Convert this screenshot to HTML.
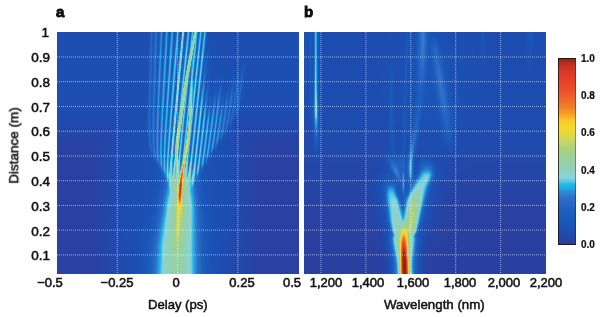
<!DOCTYPE html>
<html><head><meta charset="utf-8">
<style>
html,body{margin:0;padding:0;background:#fff;}
body{-webkit-font-smoothing:antialiased;width:600px;height:317px;position:relative;overflow:hidden;font-family:"Liberation Sans",sans-serif;color:#111;}
.t{position:absolute;white-space:nowrap;line-height:1;will-change:transform;}
.yt{font-size:13.5px;-webkit-text-stroke:0.55px #111;text-align:right;width:30px;}
.xt{font-size:13px;-webkit-text-stroke:0.55px #111;text-align:center;width:40px;}
.ct{font-size:10px;font-weight:bold;-webkit-text-stroke:0.2px #111;}
.plot{position:absolute;top:32px;height:241.5px;background:#2250a8;overflow:hidden;}
#pa{left:57px;width:241.5px;}
#pb{left:304px;width:242px;}
canvas{position:absolute;left:0;top:0;filter:blur(0.45px);}
svg.grid{position:absolute;left:0;top:0;}
#cb{position:absolute;left:558px;top:58px;width:16px;height:185px;border:1px solid rgba(20,10,10,0.75);border-right-color:rgba(20,10,10,0.35);
background:linear-gradient(to top,#2c3c98 0.0%,#2a40a0 1.6%,#1e4cb0 6.0%,#1858b8 12.0%,#2060c0 19.0%,#3070c8 25.0%,#3080d0 27.0%,#2890d8 28.5%,#20a8e0 30.0%,#20b8e8 32.0%,#60c8e0 34.0%,#88d4d8 36.0%,#90d0c0 40.0%,#98d0a0 45.5%,#a8d080 51.0%,#c8d860 56.0%,#e0d840 59.0%,#f8d828 63.0%,#f8c828 67.0%,#f8a028 70.0%,#f08028 74.0%,#f06828 78.0%,#ec5028 83.0%,#e84028 88.0%,#d83828 93.5%,#b03020 98.0%,#8a2818 100.0%);}
</style></head><body>
<div class="t" style="left:56px;top:4.2px;font-size:15px;font-weight:bold;-webkit-text-stroke:0.8px #000;">a</div>
<div class="t" style="left:303.5px;top:4px;font-size:15px;font-weight:bold;-webkit-text-stroke:0.8px #000;">b</div>

<div class="plot" id="pa"><canvas id="ca" width="242" height="242"></canvas><svg class="grid" width="241" height="242" viewBox="0 0 241 242"><g stroke="#fff" stroke-width="1" stroke-dasharray="1 1" stroke-opacity="0.55" fill="none"><path d="M0 25.0H241M0 49.7H241M0 74.5H241M0 99.2H241M0 124.0H241M0 148.7H241M0 173.4H241M0 198.1H241M0 222.9H241M60.3 0V242M120.7 0V242M180.8 0V242"/></g></svg></div>
<div class="plot" id="pb"><canvas id="cbv" width="242" height="242"></canvas><svg class="grid" width="242" height="242" viewBox="0 0 242 242"><g stroke="#fff" stroke-width="1" stroke-dasharray="1 1" stroke-opacity="0.55" fill="none"><path d="M0 25.0H242M0 49.7H242M0 74.5H242M0 99.2H242M0 124.0H242M0 148.7H242M0 173.4H242M0 198.1H242M0 222.9H242M17.0 0V242M61.9 0V242M106.8 0V242M151.7 0V242M196.6 0V242"/></g></svg></div>

<!-- y ticks -->
<div class="t yt" style="left:18.8px;top:25.5px;">1</div>
<div class="t yt" style="left:20px;top:50.5px;">0.9</div>
<div class="t yt" style="left:20px;top:75.5px;">0.8</div>
<div class="t yt" style="left:20px;top:100.5px;">0.7</div>
<div class="t yt" style="left:20px;top:124.5px;">0.6</div>
<div class="t yt" style="left:20px;top:149.5px;">0.5</div>
<div class="t yt" style="left:20px;top:174.5px;">0.4</div>
<div class="t yt" style="left:20px;top:199.5px;">0.3</div>
<div class="t yt" style="left:20px;top:224.5px;">0.2</div>
<div class="t yt" style="left:20px;top:248.5px;">0.1</div>

<!-- x ticks a -->
<div class="t xt" style="left:30px;top:276.3px;">&minus;0.5</div>
<div class="t xt" style="left:97px;top:276.3px;">&minus;0.25</div>
<div class="t xt" style="left:156px;top:276.3px;">0</div>
<div class="t xt" style="left:222px;top:276.3px;">0.25</div>
<div class="t xt" style="left:272px;top:276.3px;">0.5</div>
<!-- x ticks b -->
<div class="t xt" style="left:306px;top:276.3px;">1,200</div>
<div class="t xt" style="left:348px;top:276.3px;">1,400</div>
<div class="t xt" style="left:393px;top:276.3px;">1,600</div>
<div class="t xt" style="left:440px;top:276.3px;">1,800</div>
<div class="t xt" style="left:484px;top:276.3px;">2,000</div>
<div class="t xt" style="left:526px;top:276.3px;">2,200</div>

<div class="t" style="left:147.5px;top:297.5px;font-size:13.1px;-webkit-text-stroke:0.5px #111;">Delay (ps)</div>
<div class="t" style="left:383.5px;top:297.5px;font-size:13.3px;-webkit-text-stroke:0.5px #111;">Wavelength (nm)</div>
<div class="t" style="left:-23px;top:140px;font-size:13.5px;-webkit-text-stroke:0.5px #111;transform:rotate(-90deg);width:74px;text-align:center;">Distance (m)</div>

<div id="cb"></div>
<div class="t ct" style="left:581px;top:54px;">1.0</div>
<div class="t ct" style="left:581px;top:91px;">0.8</div>
<div class="t ct" style="left:581px;top:128px;">0.6</div>
<div class="t ct" style="left:581px;top:166px;">0.4</div>
<div class="t ct" style="left:581px;top:203px;">0.2</div>
<div class="t ct" style="left:581px;top:240px;">0.0</div>
<script>(function(){
var CM=[[0,0x2c,0x3c,0x98],[0.016,0x2a,0x40,0xa0],[0.06,0x1e,0x4c,0xb0],[0.12,0x18,0x58,0xb8],[0.19,0x20,0x60,0xc0],[0.25,0x30,0x70,0xc8],[0.27,0x30,0x80,0xd0],[0.285,0x28,0x90,0xd8],[0.3,0x20,0xa8,0xe0],[0.32,0x20,0xb8,0xe8],[0.34,0x60,0xc8,0xe0],[0.36,0x88,0xd4,0xd8],[0.4,0x90,0xd0,0xc0],[0.455,0x98,0xd0,0xa0],[0.51,0xa8,0xd0,0x80],[0.56,0xc8,0xd8,0x60],[0.59,0xe0,0xd8,0x40],[0.63,0xf8,0xd8,0x28],[0.67,0xf8,0xc8,0x28],[0.7,0xf8,0xa0,0x28],[0.74,0xf0,0x80,0x28],[0.78,0xf0,0x68,0x28],[0.83,0xec,0x50,0x28],[0.88,0xe8,0x40,0x28],[0.935,0xd8,0x38,0x28],[0.98,0xb0,0x30,0x20],[1,0x8a,0x28,0x18]];
function cmap(v,o,d,k){
  if(v<0)v=0; if(v>1)v=1;
  var i=0; while(i<CM.length-2 && v>CM[i+1][0]) i++;
  var a=CM[i],b=CM[i+1]; var t=(v-a[0])/(b[0]-a[0]);
  d[k]=a[1]+(b[1]-a[1])*t; d[k+1]=a[2]+(b[2]-a[2])*t; d[k+2]=a[3]+(b[3]-a[3])*t; d[k+3]=255;
}
function ss(e0,e1,x){var t=(x-e0)/(e1-e0); if(t<0)t=0; if(t>1)t=1; return t*t*(3-2*t);}
function interp(knots,Y,idx){ // knots sorted by Y ascending: [Y, X, amp, w]
  if(Y<=knots[0][0]) return knots[0][idx];
  for(var i=1;i<knots.length;i++){ if(Y<=knots[i][0]){ var a=knots[i-1],b=knots[i]; var t=(Y-a[0])/(b[0]-a[0]); return a[idx]+(b[idx]-a[idx])*t; } }
  return knots[knots.length-1][idx];
}
function lineVal(L,X,Y){ // L: knots [[Y,X,amp,w],...]
  if(Y<L[0][0]-3||Y>L[L.length-1][0]+3) return 0;
  var xc=interp(L,Y,1), a=interp(L,Y,2), w=interp(L,Y,3);
  var dx=(X-xc)/w; if(dx>4||dx<-4) return 0;
  var e=0; if(Y<L[0][0]) e=ss(L[0][0]-3,L[0][0],Y); else if(Y>L[L.length-1][0]) e=1-ss(L[L.length-1][0],L[L.length-1][0]+3,Y); else e=1;
  return a*e*Math.exp(-dx*dx);
}
function render(id,x0,y0,W,H,field){
  var c=document.getElementById(id); if(!c||!c.getContext) return; var ctx=c.getContext('2d');
  var im=ctx.createImageData(W,H), d=im.data;
  for(var j=0;j<H;j++){ var Y=y0+j+0.5; for(var i=0;i<W;i++){ var X=x0+i+0.5; cmap(field(X,Y),0,d,(j*W+i)*4);} }
  ctx.putImageData(im,0,0);
}
/* ---------- panel a ---------- */
var LA=[];
function clamp01(t){return t<0?0:(t>1?1:t);}
for(var k=0;k<22;k++){
  var x140=148.5+4.1*k;
  var s=(x140<=196)? 0.03+0.075*clamp01((x140-152)/25) : 0.105+0.015*clamp01((x140-196)/12);
  var ye;
  if(x140<=178) ye=159+(x140-148.5)*1.2; else if(x140<=190) ye=195+(x140-178)*0.17; else if(x140<=195.8) ye=197-(x140-190)*1.2; else ye=190-(x140-195.8)*1.8;
  var L = x140<=196 ? 400 : (x140<=200?150:(x140<=204?115:(x140<=215?90:65)));
  var a = k<7 ? [0.15,0.18,0.21,0.23,0.24,0.25,0.31][k] : (x140<=196?0.26:(x140<=215?0.27-0.002*(x140-196):0.24-0.005*(x140-215)));
  var kn=[];
  for(var Y=28;Y<=ye+4;Y+=4){
    var d=ye-Y; if(d>L+10) continue;
    var xx=x140+s*(140-Y);
    xx+=(181-xx)*(x140>196?0.05:0.18)*Math.exp(-Math.max(d,0)/14);
    var aa=a*ss(-4,10,d)*(1-ss(L*0.5,L,d));
    kn.push([Y,xx,aa,1.75]);
  }
  if(kn.length>1) LA.push(kn);
}
// bright YG slanted streak
var LS=[];
LS.push([[32,195.5,0.38,2.0],[60,190,0.41,2.0],[91,184.5,0.43,2.0],[116,181,0.44,2.05],[140,177.6,0.46,2.1],[155,176.3,0.4,2.1],[166,176.8,0.25,2.1],[176,177.5,0.06,2.2]]);
// red core streak and its upward continuation
LS.push([[40,193.5,0.12,1.7],[75,192,0.24,1.8],[91,191.5,0.3,1.9],[105,190.8,0.35,1.9],[120,190,0.39,1.9],[130,189.3,0.44,1.85],[140,188,0.5,1.8],[150,186.3,0.55,1.65],[158,184.8,0.56,1.55],[165,183.6,0.53,1.6],[172,182.4,0.53,1.6],[178,181.4,0.56,1.65],[185,180.6,0.58,1.7],[190,180.2,0.55,1.8],[195,179.9,0.49,1.9],[200,179.7,0.34,2.1],[205,179.5,0.17,2.3],[211,179.4,0.04,2.5],[218,179.3,0.0,3]]);
function fieldA(X,Y){
  var hx0=(X-176)/70; var halo=Math.exp(-hx0*hx0*hx0*hx0*hx0*hx0);
  var v=0.018+0.055*Math.max(1-ss(95,160,Y),halo*(1-0.2*ss(200,274,Y)));
  // column
  var xc, w;
  if(Y>245){xc=177-(Y-245)*0.017; w=23+(Y-245)*0.05;} else if(Y>211){xc=179.4-(Y-211)*0.07; w=19+(Y-211)*0.118;} else if(Y>191){xc=180-(Y-191)*0.03; w=17+(Y-191)*0.1;} else {xc=180+(191-Y)*0.06; w=17-(191-Y)*0.12;}
  if(w<8)w=8;
  var dx=Math.abs((X-xc)/w); var col=0.38*Math.exp(-Math.pow(dx,2.5))*ss(150,210,Y);
  var cx=(X-xc)/3.2; col+=0.12*Math.exp(-cx*cx)*ss(200,212,Y)*(1-ss(225,262,Y));
  // apex glow
  var gx=(X-181)/15, gy=(Y-185)/15; col+=0.06*Math.exp(-gx*gx-gy*gy);
  // haze in fan
  var hx=(X-182)/26; col+=0.03*Math.exp(-hx*hx*hx*hx)*ss(30,60,Y)*(1-ss(170,200,Y));
  v+=col;
  var m=0; for(var n=0;n<LA.length;n++){ var q=lineVal(LA[n],X,Y); if(q>m)m=q; }
  m*=1-0.65*clamp01(col/0.35);
  for(var n=0;n<LS.length;n++){ var q=lineVal(LS[n],X,Y); if(q>m)m=q; }
  return v+m;
}
render('ca',57,32,242,242,fieldA);
/* ---------- panel b ---------- */
var LB=[];
// left edge streaks
LB.push([[28,315.8,0.27,1.8],[60,315.8,0.28,1.8],[90,315.8,0.3,2.0],[112,316,0.32,2.4],[130,316.2,0.22,2.3],[145,316.4,0.09,2.1],[154,316.5,0,2]]);
LB.push([[28,310.5,0.09,1.3],[80,310.5,0.08,1.3],[110,310.8,0.04,1.5],[125,311,0,1.5]]);
LB.push([[28,306,0.05,1.3],[80,306,0.04,1.3],[100,306,0,1.3]]);
// right-arm upward extension (streak A/C)
LB.push([[28,423,0.19,5.2],[50,422.7,0.18,5],[70,422,0.14,4.4],[92,420.7,0.09,3.6],[112,418.5,0.1,3.2],[130,415.5,0.14,3.2],[145,412.8,0.2,3.0],[155,411.3,0.24,2.8],[165,410.6,0.26,2.6],[175,410.5,0.22,2.6],[182,410.5,0.1,2.8],[188,410.5,0,3]]);
LB.push([[150,386,0,3],[160,390,0.1,3.5],[170,395,0.12,3.5],[180,400.5,0.08,3],[186,402.5,0,3]]);
// streak B (diagonal)
LB.push([[35,433,0,4],[48,435,0.13,4.5],[70,438.5,0.15,5],[95,442.5,0.16,5.5],[120,446.5,0.13,5.5],[140,449,0.07,5],[155,451,0,4.5]]);
// faint streaks
LB.push([[28,407.7,0.06,1.4],[100,405,0.05,1.6],[150,404,0.06,1.8],[170,403.5,0.04,2]]);
LB.push([[60,392,0,2],[90,391.5,0.07,2],[125,391.5,0.08,2.2],[150,392.5,0.06,2.5],[170,394,0,2.5]]);
LB.push([[28,483,0.05,2],[50,483,0.04,2],[70,483,0,2]]);
LB.push([[28,530,0.06,3],[45,530,0.05,3],[70,530,0,3]]);
// centre thin streak above notch
LB.push([[168,403.4,0.0,1.3],[176,403.4,0.16,1.3],[186,403.4,0.2,1.4],[192,403.4,0.1,1.5],[198,403.4,0,1.5]]);
function armVal(X,Y,K){ // K: [[Y,X,amp,w]] thick arm with flat-top
  if(Y<K[0][0]-8||Y>K[K.length-1][0]+8) return 0;
  var xc=interp(K,Y,1), a=interp(K,Y,2), w=interp(K,Y,3);
  var dx=(X-xc)/w; var e=0.78*Math.exp(-Math.pow(Math.abs(dx),4))+0.22*Math.exp(-dx*dx/3.0);
  var cap=ss(K[0][0]-8,K[0][0]+2,Y);
  return a*e*cap;
}
var ARML=[[189,391,0.18,4.5],[194,391.3,0.24,5.5],[200,392.5,0.27,6.8],[210,394.5,0.28,7.5],[222,396.5,0.31,7.8],[232,399,0.34,7.5],[242,401.5,0.25,7.5],[250,403,0.0,7.5]];
var ARMR=[[160,426,0.06,6],[166,427,0.15,7.2],[174,426,0.23,8],[184,421.5,0.29,8.5],[194,417.5,0.31,9.5],[200,415.5,0.33,9.8],[210,413.5,0.35,9],[222,411.5,0.38,8.3],[232,409.5,0.39,7.5],[242,405.5,0.25,7.5],[250,404,0.0,7.5]];
var RIDGE=[[190,417,0,3],[200,415,0.07,3],[215,413,0.09,3],[228,410.5,0.06,3],[238,407,0,3]];
var CORE=[[226,0,0,0],[233,0,0.13,0],[241,0,0.3,0],[250,0,0.47,0],[260,0,0.56,0],[280,0,0.57,0]];
function fieldB(X,Y){
  var v=0.065-0.05*ss(90,250,Y);
  var cxs=403.7+(Y-240)*0.035; if(Y<240)cxs=403.7+(Y-240)*0.01;
  var t=ss(235,268,Y);
  var gw=13-2.5*t, gp=3.5-1.0*t, ga=0.40-0.04*t;
  var gdx=Math.abs((X-cxs)/gw); var gl=ga*Math.exp(-Math.pow(gdx,gp))*ss(222,240,Y);
  var al=armVal(X,Y,ARML), ar=armVal(X,Y,ARMR);
  var arm=Math.min(0.42,Math.max(al,ar)+0.5*Math.min(al,ar));
  var nx=(X-403.5)/6; var neck=0.42*Math.exp(-nx*nx)*ss(216,234,Y);
  v+=Math.max(arm,gl,neck);
  v+=lineVal(RIDGE,X,Y);
  // spike core
  var cw=3.6+(Y-255)*0.02; if(cw<2.7)cw=2.7;
  var sx=Math.abs((X-cxs)/cw); var A=interp(CORE,Y,2);
  v+=A*Math.exp(-Math.pow(sx,2.4));
  // faint upper-left glow of V
  var ux=(X-399)/9, uy=(Y-172)/11; v+=0.09*Math.exp(-ux*ux-uy*uy);
  var hx=(X-405)/24, hy=(Y-205)/30; v+=0.07*Math.exp(-hx*hx-hy*hy);
  var fx=(X-428)/7, fy=(Y-176)/7; v+=0.06*Math.exp(-fx*fx-fy*fy);
  var lx=(X-388)/10, ly=(Y-184)/9; v+=0.08*Math.exp(-lx*lx-ly*ly);
  var bx2=(X-404.5)/15; v+=0.07*Math.exp(-bx2*bx2)*ss(215,245,Y);
  var tx=(X-399)/8, ty=(Y-162)/7; v+=0.09*Math.exp(-tx*tx-ty*ty);
  var bx=(X-430)/30, by=(Y-90)/60; v+=0.035*Math.exp(-bx*bx-by*by);
  var m=0; for(var n=0;n<LB.length;n++){ var q=lineVal(LB[n],X,Y); if(q>m)m=q; }
  return v+m;
}
render('cbv',304,32,242,242,fieldB);
})();
</script>
</body></html>
